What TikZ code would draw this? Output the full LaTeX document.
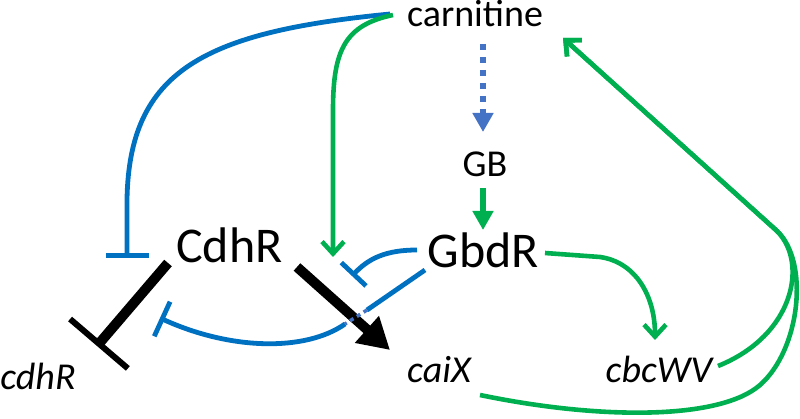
\documentclass[tikz,border=0pt]{standalone}
\usepackage{fontspec}
\setmainfont{Carlito}
\usetikzlibrary{arrows.meta}
\definecolor{lblue}{HTML}{0070C0}
\definecolor{dblue}{HTML}{4472C4}
\definecolor{lgreen}{HTML}{00B050}
\begin{document}
\begin{tikzpicture}[x=1pt,y=-1pt,
  lbl/.style={inner sep=0pt,anchor=base,font=\fontsize{38}{40}\selectfont},
  big/.style={inner sep=0pt,anchor=base,font=\fontsize{50}{52}\selectfont},
  inh/.style={draw=lblue,line width=4.8pt,-{Bar[width=#1]}},
  act/.style={draw=lgreen,line width=4.6pt,-{Straight Barb[length=12pt,width=22pt]}},
  fillact/.style={line width=6pt,-{Triangle[length=19pt,width=20pt]}}]
\useasboundingbox (0,0) rectangle (800,419);
% labels
\node[lbl] (carn) at (475,27) {carnitine};
\node[lbl] (gb) at (485,177) {GB};
\node[big] (gbdr) at (483.5,268) {GbdR};
\node[big] (cdhrP) at (229.5,263) {CdhR};
\node[lbl] (cdhr) at (38,389) {\itshape cdhR};
\node[lbl] (caix) at (439,382) {\itshape caiX};
\node[lbl] (cbc) at (659,382) {\itshape cbcWV};
% coordinates
\coordinate (cA) at (390,14);
\coordinate (cB) at (393,15);
\coordinate (tT) at (127,258);
\coordinate (jG) at (333,257);
\coordinate (jB) at (352,276);
\coordinate (gL1) at (417,250);
\coordinate (gL2) at (425,270);
\coordinate (xA) at (367,310);
\coordinate (xB) at (345,324);
\coordinate (bT) at (160,318);
\coordinate (cdS) at (168,263);
\coordinate (cdT) at (97,346);
\coordinate (caS) at (297,267);
\coordinate (caT) at (390,350);
\coordinate (gbS) at (483,44);
\coordinate (gbT) at (483,132);
\coordinate (gS) at (483,188);
\coordinate (gT) at (483,230);
\coordinate (grS) at (545,253);
\coordinate (grK) at (600,257);
\coordinate (cbT) at (655,340);
\coordinate (cbS) at (718,366);
\coordinate (caS2) at (480,395);
\coordinate (mJ) at (777,231);
\coordinate (carT) at (563,38);
% carnitine -> GB (dotted)
\draw[dblue,line width=6pt,dash pattern=on 6pt off 7pt,-{Triangle[length=19pt,width=20pt]}] (gbS) -- (gbT);
% GB -> GbdR
\draw[lgreen,fillact] (gS) -- (gT);
% carnitine -| CdhR
\draw[inh=43pt] (cA) .. controls (205,32) and (129,70) .. (127,200) -- (tT);
% carnitine -> junction
\draw[act] (cB) .. controls (345,25) and (333,50) .. (333,110) -- (jG);
% GbdR -| junction
\draw[inh=34pt] (gL1) .. controls (385,250) and (368,259) .. (jB);
% GbdR -| CdhR->cdhR
\draw[lblue,line width=4.8pt] (gL2) -- (xA);
\draw[inh=38pt] (xB) .. controls (305,352) and (230,350) .. (bT);
% CdhR -| cdhR
\draw[line width=10pt,-{Bar[width=76pt,line width=6pt]}] (cdS) -- (cdT);
% CdhR -> caiX
\draw[line width=10pt,-{Triangle[length=31pt,width=34pt]}] (caS) -- (caT);
\draw[dblue,line width=3.5pt,dash pattern=on 4pt off 4pt] (xA) -- (xB);
% GbdR -> cbcWV
\draw[act] (grS) -- (grK) .. controls (635,262) and (655,295) .. (cbT);
% cbcWV -> carnitine
\draw[act] (cbS) .. controls (795,335) and (808,262) .. (mJ) -- (carT);
% caiX -> carnitine
\draw[act] (caS2) .. controls (600,420) and (720,420) .. (760,385) .. controls (800,350) and (810,262) .. (mJ) -- (carT);
\end{tikzpicture}
\end{document}
